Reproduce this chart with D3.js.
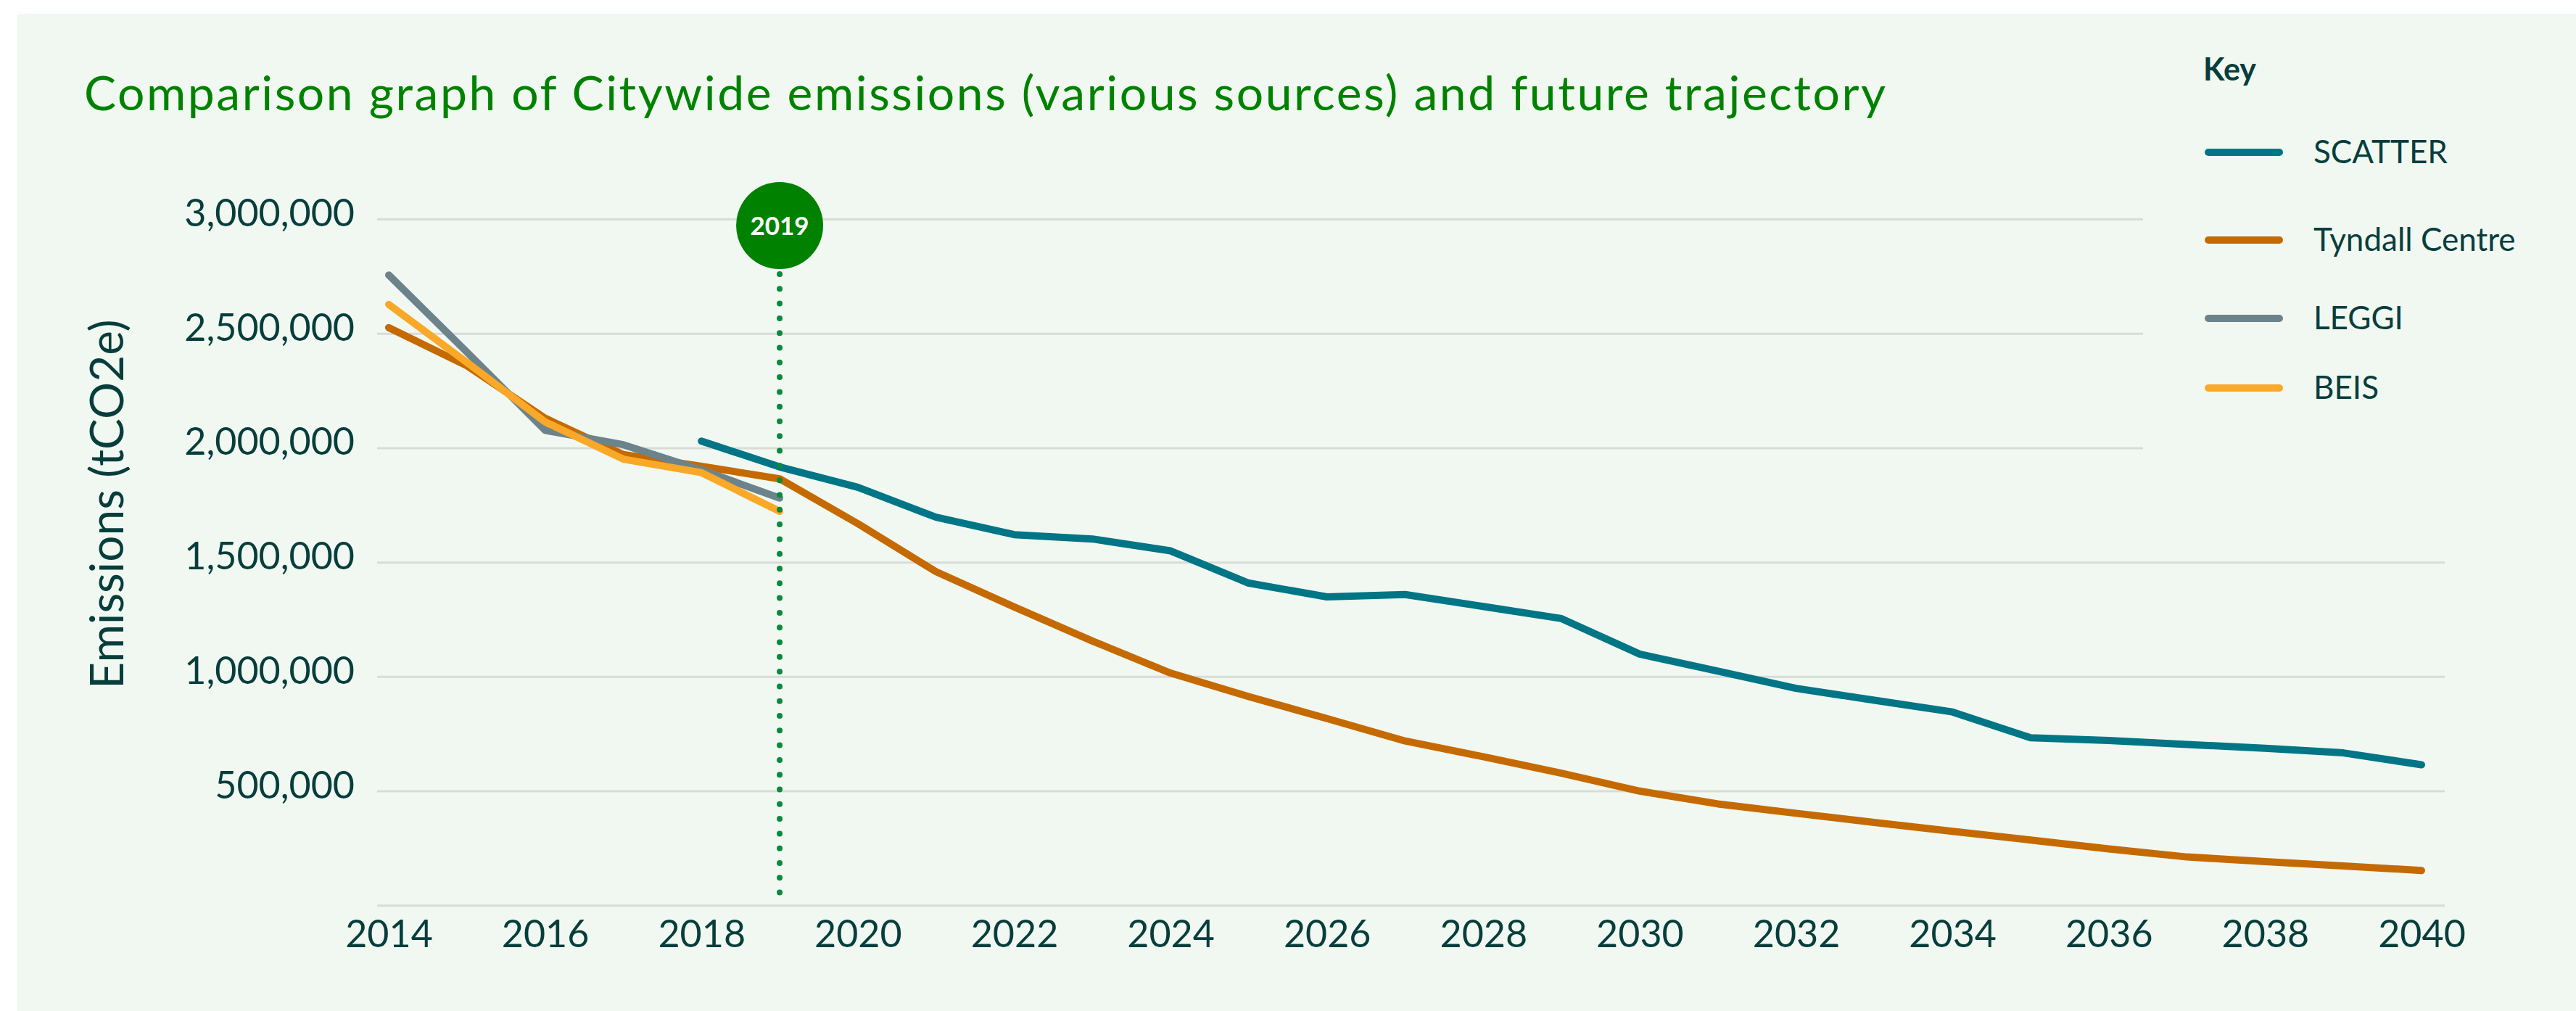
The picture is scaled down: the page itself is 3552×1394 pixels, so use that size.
<!DOCTYPE html>
<meta charset="utf-8">
<head>
<script src="https://d3js.org/d3.v7.min.js"></script>
<style>
  body { margin: 0; background: #ffffff; }
  svg text { font-family: Lato, "Open Sans", sans-serif; }
  .tick line { display: none; }
  .domain { display: none; }
</style>
</head>
<body>
<div id="chart"></div>
<script>
// --- data ---
var historicYears = [2014, 2015, 2016, 2017, 2018, 2019];
var leggiValues   = [2757000, 2420000, 2078000, 2015000, 1905000, 1782000];
var beisValues    = [2628000, 2375000, 2115000, 1952000, 1893000, 1724000];

var tyndallYears  = [2014, 2015, 2016, 2017, 2018, 2019, 2020, 2021, 2022, 2023, 2024, 2025, 2026, 2027,
                     2028, 2029, 2030, 2031, 2032, 2033, 2034, 2035, 2036, 2037, 2038, 2039, 2040];
var tyndallValues = [2527000, 2360000, 2131000, 1972000, 1921000, 1866000, 1670000, 1460000, 1306000,
                     1157000, 1017000, 914000, 818000, 720000, 651000, 579000, 501000, 445000, 404000,
                     364000, 325000, 287000, 248000, 213000, 193000, 174000, 154000];

var scatterYears  = [2018, 2019, 2020, 2021, 2022, 2023, 2024, 2025, 2026, 2027, 2028, 2029,
                     2030, 2031, 2032, 2033, 2034, 2035, 2036, 2037, 2038, 2039, 2040];
var scatterValues = [2031000, 1918000, 1829000, 1698000, 1622000, 1603000, 1551000, 1410000, 1350000,
                     1360000, 1308000, 1255000, 1100000, 1025000, 950000, 898000, 847000, 734000,
                     722000, 705000, 688000, 668000, 616000];

var xTickYears = [2014, 2016, 2018, 2020, 2022, 2024, 2026, 2028, 2030, 2032, 2034, 2036, 2038, 2040];
var yTickValues = [500000, 1000000, 1500000, 2000000, 2500000, 3000000];
var gridValues = [0, 500000, 1000000, 1500000, 2000000, 2500000, 3000000];
var markerYear = 2019;

var seriesNames  = ["SCATTER", "Tyndall Centre", "LEGGI", "BEIS"];
var seriesColors = ["#007585", "#c56a00", "#6d838c", "#f9a828"];

// --- layout ---
var W = 3552, H = 1394;
var textColor = "#073e3c";
var svg = d3.select("#chart").append("svg")
  .attr("width", W).attr("height", H);

svg.append("rect")
  .attr("x", 24).attr("y", 19)
  .attr("width", W - 24).attr("height", H - 19)
  .attr("fill", "#f1f8f1");

var x = d3.scaleLinear().domain([2014, 2040]).range([536, 3339]);
var y = d3.scaleLinear().domain([0, 3000000]).range([1248.8, 302.5]);

// title (stretched to the width of the original heading)
svg.append("text")
  .attr("x", 116).attr("y", 152)
  .attr("font-size", 66)
  .attr("textLength", 2484)
  .attr("lengthAdjust", "spacing")
  .attr("fill", "#008200")
  .text("Comparison graph of Citywide emissions (various sources) and future trajectory");

// gridlines (the top ones stop short of the key)
svg.append("g").selectAll("line")
  .data(gridValues)
  .join("line")
  .attr("x1", 520)
  .attr("x2", function(d) { return d >= 2000000 ? 2955 : 3371; })
  .attr("y1", function(d) { return y(d); })
  .attr("y2", function(d) { return y(d); })
  .attr("stroke", "#d9dbd9")
  .attr("stroke-width", 3);

// y axis labels
var yAxis = svg.append("g")
  .attr("transform", "translate(520,0)")
  .call(d3.axisLeft(y).tickValues(yTickValues).tickFormat(d3.format(",")).tickSize(0).tickPadding(31));
yAxis.selectAll("text")
  .attr("font-size", 52)
  .attr("font-family", "Lato, sans-serif")
  .attr("fill", textColor)
  .attr("dy", 9);

// x axis labels
var xAxis = svg.append("g")
  .attr("transform", "translate(0," + y(0) + ")")
  .call(d3.axisBottom(x).tickValues(xTickYears).tickFormat(d3.format("d")).tickSize(0).tickPadding(20));
xAxis.selectAll("text")
  .attr("font-size", 52)
  .attr("font-family", "Lato, sans-serif")
  .attr("fill", textColor);

// y axis title
svg.append("text")
  .attr("transform", "translate(170,695) rotate(-90)")
  .attr("text-anchor", "middle")
  .attr("font-size", 64)
  .attr("fill", textColor)
  .text("Emissions (tCO2e)");

// lines
var line = d3.line()
  .x(function(d) { return x(d[0]); })
  .y(function(d) { return y(d[1]); });

var seriesData = [
  d3.zip(scatterYears, scatterValues),
  d3.zip(tyndallYears, tyndallValues),
  d3.zip(historicYears, leggiValues),
  d3.zip(historicYears, beisValues)
];

svg.append("g").selectAll("path")
  .data(seriesData)
  .join("path")
  .attr("d", line)
  .attr("fill", "none")
  .attr("stroke", function(d, i) { return seriesColors[i]; })
  .attr("stroke-width", 10)
  .attr("stroke-linecap", "round")
  .attr("stroke-linejoin", "round");

// 2019 marker
var mx = x(markerYear);
svg.append("line")
  .attr("x1", mx).attr("x2", mx)
  .attr("y1", 378).attr("y2", 1240)
  .attr("stroke", "#0a8a3c")
  .attr("stroke-width", 8)
  .attr("stroke-linecap", "round")
  .attr("stroke-dasharray", "0 20.3");
svg.append("circle")
  .attr("cx", mx).attr("cy", 311).attr("r", 60)
  .attr("fill", "#008200");
svg.append("text")
  .attr("x", mx).attr("y", 324)
  .attr("text-anchor", "middle")
  .attr("font-size", 35)
  .attr("font-weight", "bold")
  .attr("fill", "#ffffff")
  .text(markerYear);

// key
var keyY = [210, 331, 439, 535];
svg.append("text")
  .attr("x", 3038).attr("y", 111)
  .attr("font-size", 43)
  .attr("font-weight", "bold")
  .attr("fill", textColor)
  .text("Key");
var key = svg.append("g").selectAll("g")
  .data(seriesNames)
  .join("g")
  .attr("transform", function(d, i) { return "translate(0," + keyY[i] + ")"; });
key.append("line")
  .attr("x1", 3045).attr("x2", 3143)
  .attr("stroke", function(d, i) { return seriesColors[i]; })
  .attr("stroke-width", 10)
  .attr("stroke-linecap", "round");
key.append("text")
  .attr("x", 3190).attr("y", 15)
  .attr("font-size", 44)
  .attr("fill", textColor)
  .text(function(d) { return d; });
</script>
</body>
